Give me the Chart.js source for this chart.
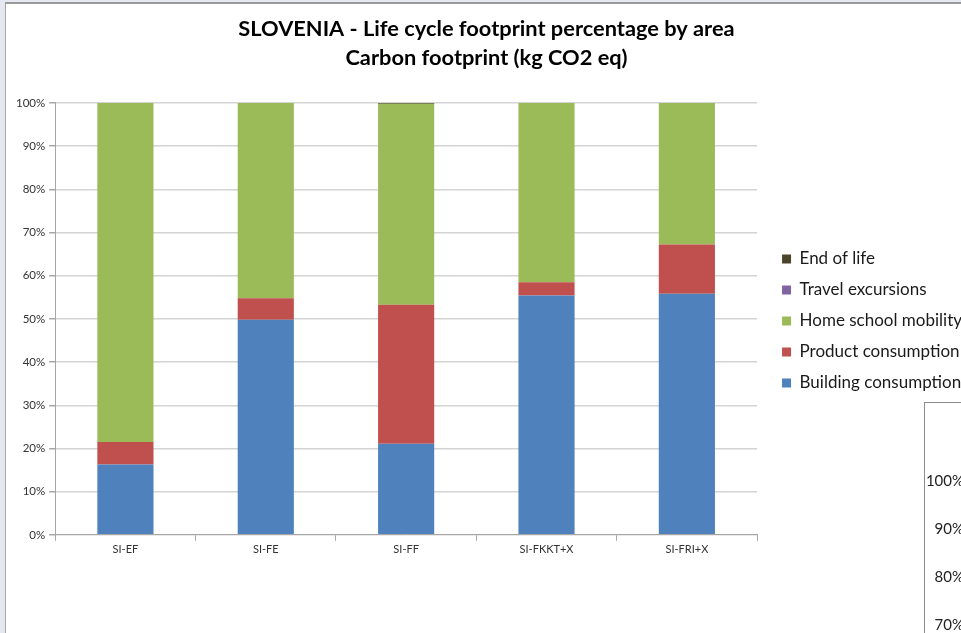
<!DOCTYPE html>
<html lang="en">
<head>
    <meta charset="UTF-8">
    <title>SLOVENIA - Life cycle footprint percentage by area</title>
    <style>
        html, body {
            margin: 0;
            padding: 0;
            width: 961px;
            height: 633px;
            overflow: hidden;
            background-color: #e6e8f1;
        }
        .frame {
            position: absolute;
            left: 5px;
            top: 2px;
            width: 955px;
            height: 631px;
            background: #ffffff;
            border-left: 1px solid #a6a6a6;
            border-top: 2px solid #9a9a9a;
            overflow: hidden;
        }
        .other-chart {
            position: absolute;
            left: 918px;
            top: 398px;
            width: 60px;
            height: 240px;
            border-left: 1px solid #8c8c8c;
            border-top: 1px solid #8c8c8c;
            font-family: Lato, "Noto Sans", sans-serif;
            font-size: 15px;
            color: #222;
        }
        .other-chart span {
            position: absolute;
            right: 21px;
        }
    </style>
</head>
<body>
    <div class="frame">
        <canvas id="footprintChart" width="955" height="631"></canvas>
        <div class="other-chart" id="otherChart"></div>
    </div>

    <script src="https://cdn.jsdelivr.net/npm/chart.js"></script>
    <script>
        // Categorias y valores (% del total por escuela)
        const categories = ['SI-EF', 'SI-FE', 'SI-FF', 'SI-FKKT+X', 'SI-FRI+X'];
        const building = [16.3, 49.8, 21.1, 55.4, 55.8];
        const product = [5.2, 5.0, 32.2, 3.1, 11.4];
        const homeSchool = [78.5, 45.2, 46.55, 41.5, 32.8];
        const travel = [0, 0, 0, 0, 0];
        const endOfLife = [0, 0, 0.15, 0, 0];
        const yTicks = [0, 10, 20, 30, 40, 50, 60, 70, 80, 90, 100];

        // Etiquetas del segundo grafico recortado abajo a la derecha
        const otherChartTicks = ['100%', '90%', '80%', '70%'];
        const otherBox = document.getElementById('otherChart');
        otherChartTicks.forEach((t, i) => {
            const s = document.createElement('span');
            s.textContent = t;
            s.style.top = (68 + i * 48) + 'px';
            otherBox.appendChild(s);
        });

        // Mover la leyenda a su sitio (como en Excel)
        const legendShift = {
            id: 'legendShift',
            afterLayout(chart) {
                chart.legend.left += 11;
                chart.legend.top += 37;
                chart.legend.bottom += 37;
            }
        };

        const ctx = document.getElementById('footprintChart').getContext('2d');
        const footprintChart = new Chart(ctx, {
            type: 'bar',
            data: {
                labels: categories,
                datasets: [
                    { label: 'Building consumption', data: building, backgroundColor: '#4f81bd' },
                    { label: 'Product consumption', data: product, backgroundColor: '#c0504d' },
                    { label: 'Home school mobility', data: homeSchool, backgroundColor: '#9bbb59' },
                    { label: 'Travel excursions', data: travel, backgroundColor: '#8064a2' },
                    { label: 'End of life', data: endOfLife, backgroundColor: '#4a452a' }
                ]
            },
            plugins: [legendShift],
            options: {
                responsive: false,
                animation: false,
                datasets: {
                    bar: {
                        barPercentage: 0.4,
                        categoryPercentage: 1.0
                    }
                },
                layout: {
                    padding: { left: 6, right: 0, top: 6, bottom: 77 }
                },
                plugins: {
                    title: {
                        display: true,
                        text: ['SLOVENIA - Life cycle footprint percentage by area', 'Carbon footprint (kg CO2 eq)'],
                        color: '#000000',
                        font: { family: 'Lato', size: 21.8, weight: 'bold', lineHeight: 1.33 },
                        padding: { top: 4, bottom: 31 }
                    },
                    legend: {
                        position: 'right',
                        reverse: true,
                        maxWidth: 204,
                        labels: {
                            boxWidth: 9,
                            boxHeight: 9,
                            padding: 14,
                            color: '#1a1a1a',
                            font: { family: 'Lato', size: 17 }
                        }
                    },
                    tooltip: { enabled: false }
                },
                scales: {
                    x: {
                        stacked: true,
                        grid: {
                            offset: true,
                            drawOnChartArea: false,
                            tickLength: 6,
                            color: '#a6a6a6'
                        },
                        border: { color: '#a6a6a6' },
                        ticks: {
                            color: '#333333',
                            font: { family: 'Lato', size: 11 },
                            padding: 2
                        }
                    },
                    y: {
                        stacked: true,
                        min: 0,
                        max: 100,
                        afterBuildTicks: (axis) => {
                            axis.ticks = yTicks.map(v => ({ value: v }));
                        },
                        grid: {
                            color: '#d4d4d4',
                            lineWidth: 1.5,
                            tickLength: 6,
                            tickColor: '#a6a6a6'
                        },
                        border: { color: '#a6a6a6' },
                        ticks: {
                            color: '#333333',
                            font: { family: 'Lato', size: 11.5 },
                            padding: 4,
                            callback: (v) => v + '%'
                        }
                    }
                }
            }
        });
    </script>
</body>
</html>
